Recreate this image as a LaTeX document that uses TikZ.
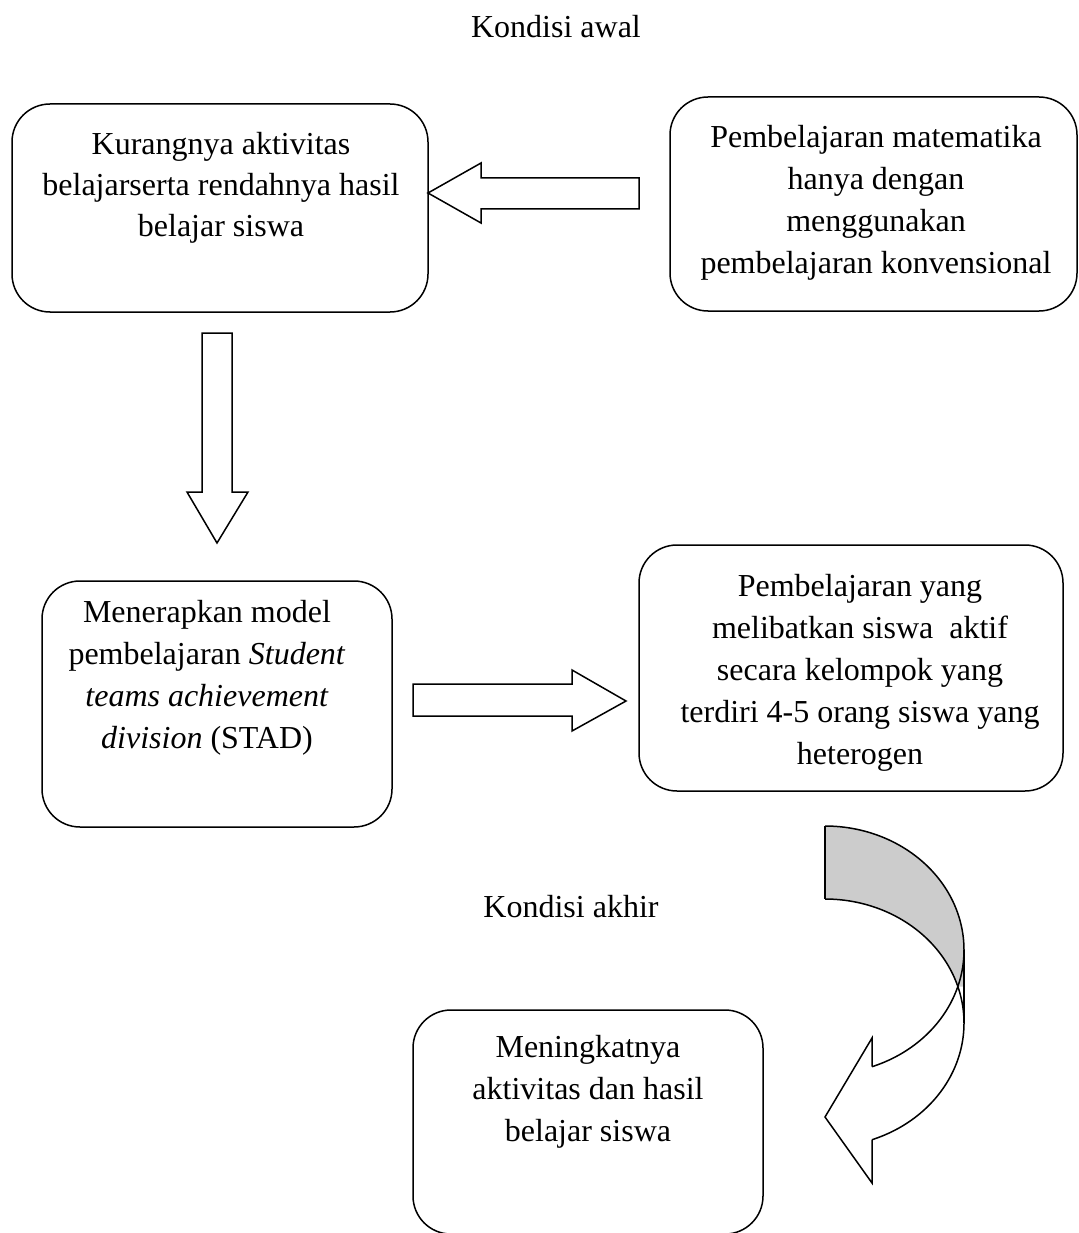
\documentclass[tikz,border=0pt]{standalone}
\usepackage{fontspec}
\setmainfont{Liberation Serif}
\begin{document}
\begin{tikzpicture}[x=1pt,y=-1pt,
  box/.style={draw,line width=1.5pt,rounded corners=38pt,inner sep=0pt,outer sep=0pt},
  txt/.style={align=center,inner sep=0pt,font=\fontsize{32}{42}\selectfont},
  blk/.style={draw,line width=1.5pt,fill=white,line join=miter},
  label/.style={inner sep=0pt,font=\fontsize{32}{42}\selectfont}]
\useasboundingbox (0,0) rectangle (1078,1233);

% boxes
\node[box,minimum width=416pt,minimum height=208pt] (b1) at (220,208) {};
\node[box,minimum width=407pt,minimum height=214pt] (b2) at (873.5,204) {};
\node[box,minimum width=350pt,minimum height=246pt] (b3) at (217,704) {};
\node[box,minimum width=424pt,minimum height=246pt] (b4) at (851,668) {};
\node[box,minimum width=350pt,minimum height=224pt] (b5) at (588,1122) {};

% texts
\node[label] (k0) at (556,27) {Kondisi awal};
\node[label] (k1) at (571,907) {Kondisi akhir};
\node[txt,font=\fontsize{32}{41}\selectfont] (t1) at (221,188) {Kurangnya aktivitas\\belajarserta rendahnya hasil\\belajar siswa};
\node[txt] (t2) at (876,203) {Pembelajaran matematika\\hanya dengan\\menggunakan\\pembelajaran konvensional};
\node[txt] (t3) at (207,678) {Menerapkan model\\pembelajaran \textit{Student}\\\textit{teams achievement}\\\textit{division} (STAD)};
\node[txt] (t4) at (860,673) {Pembelajaran yang\\melibatkan siswa\ \ aktif\\secara kelompok yang\\terdiri 4-5 orang siswa yang\\heterogen};
\node[txt] (t5) at (588,1092) {Meningkatnya\\aktivitas dan hasil\\belajar siswa};

% block arrow b2 -> b1
\coordinate (a1tip) at (b1.east |- 0,193);
\draw[blk] (639,178) -- (481,178) -- (481,163) -- (a1tip) -- (481,223) -- (481,209) -- (639,209) -- cycle;

% block arrow b1 -> b3
\coordinate (a2tip) at (217,543);
\draw[blk] (202,333) -- (232,333) -- (232,492) -- (248,492) -- (a2tip) -- (187,492) -- (202,492) -- cycle;

% block arrow b3 -> b4
\coordinate (a3tip) at (626,701);
\draw[blk] (413,684) -- (572,684) -- (572,670) -- (a3tip) -- (572,731) -- (572,716) -- (413,716) -- cycle;

% curved arrow b4 -> b5
\fill[fill={rgb,255:red,204;green,204;blue,204}] (825,826)
  -- plot[domain=-90:0,samples=60] ({825+139*cos(\x)},{950+124*sin(\x)})
  -- (964,986.5)
  -- plot[domain=-17.1:-90,samples=60] ({825+139*cos(\x)},{1023+124*sin(\x)})
  -- cycle;
\draw[line width=1.5pt] plot[domain=-90:70.2,samples=120] ({825+139*cos(\x)},{950+124*sin(\x)});
\draw[line width=1.5pt] plot[domain=-90:70.2,samples=120] ({825+139*cos(\x)},{1023+124*sin(\x)});
\draw[line width=1.5pt] (825,826) -- (825,899);
\draw[line width=1.5pt] (964,950) -- (964,1023);
\coordinate (a4tip) at (825,1117);
\draw[line width=1.5pt,line join=miter] (872,1139.7) -- (872,1183) -- (a4tip) -- (872,1038) -- (872,1066.7);
\end{tikzpicture}
\end{document}
